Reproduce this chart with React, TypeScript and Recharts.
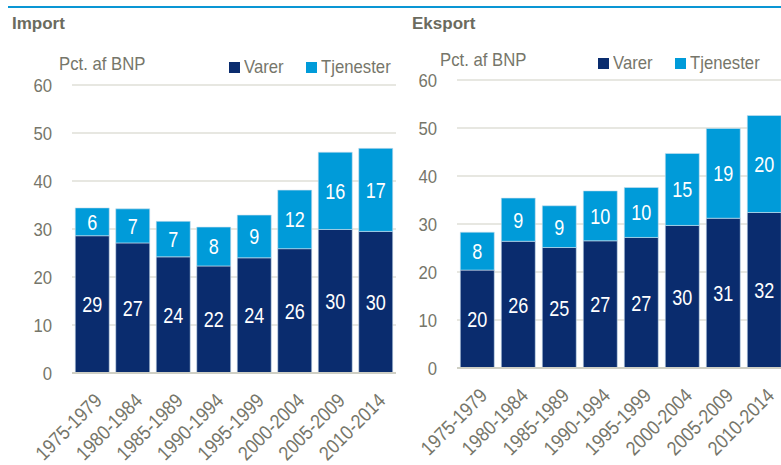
import { Bar, BarChart, CartesianGrid, LabelList, XAxis, YAxis } from 'recharts';

const periods = [
  '1975-1979',
  '1980-1984',
  '1985-1989',
  '1990-1994',
  '1995-1999',
  '2000-2004',
  '2005-2009',
  '2010-2014',
];

const importVarer = [28.6, 27.1, 24.2, 22.3, 24.0, 25.9, 29.9, 29.5];
const importTjenester = [5.8, 7.1, 7.4, 8.1, 8.9, 12.2, 16.1, 17.3];
const eksportVarer = [20.4, 26.4, 25.1, 26.5, 27.2, 29.7, 31.2, 32.4];
const eksportTjenester = [7.9, 9.0, 8.7, 10.4, 10.4, 15.0, 18.7, 20.2];
const yTicks = [0, 10, 20, 30, 40, 50, 60];

const NAVY = '#0a2c6e';
const LIGHT = '#009bd9';
const GREY = '#76766a';
const FONT = '"Liberation Sans", Arial, sans-serif';
const SQUEEZE = 0.88;

function build(varer: number[], tjenester: number[]) {
  return periods.map((p, i) => ({ period: p, varer: varer[i], tjenester: tjenester[i] }));
}

function AngledTick(props: any) {
  const { x, y, payload } = props;
  return (
    <g transform={`translate(${x + 6},${y + 16}) rotate(-45) scale(${SQUEEZE},1)`}>
      <text textAnchor="end" fill={GREY} fontSize={20} fontFamily={FONT} dy="0.35em">
        {payload.value}
      </text>
    </g>
  );
}

function ValueTick(props: any) {
  const { x, y, payload } = props;
  return (
    <g transform={`translate(${x},${y}) scale(${SQUEEZE},1)`}>
      <text textAnchor="end" fill={GREY} fontSize={19} fontFamily={FONT} dy="0.36em">
        {payload.value}
      </text>
    </g>
  );
}

function BarValue(props: any) {
  const { x, y, width, height, value } = props;
  const cx = Number(x) + Number(width) / 2;
  const cy = Number(y) + Number(height) / 2;
  return (
    <g transform={`translate(${cx},${cy}) scale(0.82,1)`}>
      <text textAnchor="middle" fill="#ffffff" fontSize={22} fontFamily={FONT} dy="0.36em">
        {Math.round(Number(value))}
      </text>
    </g>
  );
}

function Panel(props: {
  data: any[];
  left: number;
  width: number;
  top: number;
  bottom: number;
  yWidth: number;
  marginLeft: number;
  marginRight: number;
}) {
  const { data, left, width, top, bottom, yWidth, marginLeft, marginRight } = props;
  return (
    <div style={{ position: 'absolute', left, top: 0 }}>
      <BarChart
        width={width}
        height={465}
        data={data}
        margin={{ top, right: marginRight, left: marginLeft, bottom: 0 }}
        barCategoryGap="8%"
      >
        <CartesianGrid vertical={false} stroke="#cfcfc4" strokeWidth={1.2} />
        <XAxis
          dataKey="period"
          interval={0}
          height={465 - bottom}
          tickLine={false}
          axisLine={{ stroke: '#cfcfc4', strokeWidth: 2 }}
          tick={<AngledTick />}
        />
        <YAxis
          width={yWidth}
          domain={[0, 60]}
          ticks={yTicks}
          tickLine={false}
          axisLine={false}
          tickSize={0}
          tickMargin={20}
          tick={<ValueTick />}
        />
        <Bar dataKey="varer" stackId="a" fill={NAVY} stroke="#cfe0ee" strokeWidth={0.6} isAnimationActive={false}>
          <LabelList dataKey="varer" content={<BarValue />} />
        </Bar>
        <Bar dataKey="tjenester" stackId="a" fill={LIGHT} stroke="#cfe0ee" strokeWidth={0.6} isAnimationActive={false}>
          <LabelList dataKey="tjenester" content={<BarValue />} />
        </Bar>
      </BarChart>
    </div>
  );
}

function Header(props: {
  left: number;
  title: string;
  unitX: number;
  unitY: number;
  legendX: number;
  legendY: number;
  lineLeft: number;
  lineWidth: number;
}) {
  const { left, title, unitX, unitY, legendX, legendY, lineLeft, lineWidth } = props;
  const txt = {
    position: 'absolute' as const,
    fontFamily: FONT,
    fontSize: 19,
    color: GREY,
    whiteSpace: 'nowrap' as const,
    lineHeight: '20px',
    transform: `scaleX(${SQUEEZE})`,
    transformOrigin: 'left center',
  };
  return (
    <>
      <div style={{ position: 'absolute', left: lineLeft, top: 6, width: lineWidth, height: 2, background: '#0a96d4' }} />
      <div
        style={{
          position: 'absolute',
          left,
          top: 14,
          fontFamily: FONT,
          fontWeight: 'bold',
          fontSize: 17,
          color: '#6b6b5e',
          lineHeight: '20px',
        }}
      >
        {title}
      </div>
      <div style={{ ...txt, left: unitX, top: unitY }}>Pct. af BNP</div>
      <div style={{ position: 'absolute', left: legendX, top: legendY + 5, width: 11, height: 11, background: NAVY }} />
      <div style={{ ...txt, left: legendX + 15, top: legendY }}>Varer</div>
      <div style={{ position: 'absolute', left: legendX + 77, top: legendY + 5, width: 11, height: 11, background: LIGHT }} />
      <div style={{ ...txt, left: legendX + 92, top: legendY }}>Tjenester</div>
    </>
  );
}

export default function App() {
  return (
    <div
      style={{
        position: 'absolute',
        left: 0,
        top: 0,
        width: 781,
        height: 465,
        overflow: 'hidden',
        background: '#ffffff',
      }}
    >
      <Header left={12} title="Import" unitX={59} unitY={54} legendX={229} legendY={57} lineLeft={8} lineWidth={392} />
      <Header left={412} title="Eksport" unitX={440} unitY={50} legendX={598} legendY={53} lineLeft={400} lineWidth={381} />
      <Panel data={build(importVarer, importTjenester)} left={0} width={400} top={85} bottom={373} yWidth={60} marginLeft={12} marginRight={4} />
      <Panel data={build(eksportVarer, eksportTjenester)} left={400} width={390} top={80} bottom={368} yWidth={50} marginLeft={7} marginRight={5} />
    </div>
  );
}
